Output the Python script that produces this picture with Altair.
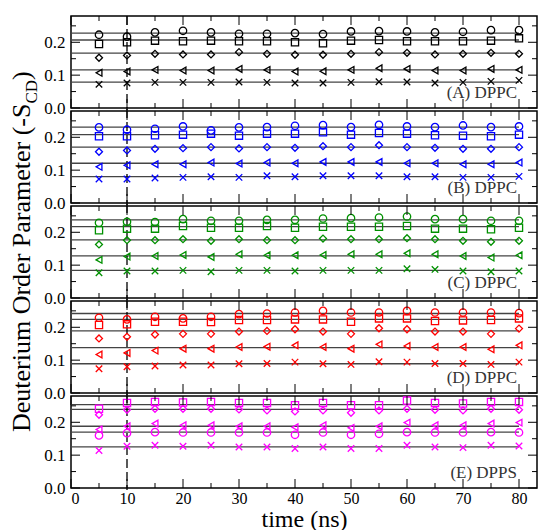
import altair as alt
import pandas as pd

# ---------------- data ----------------
time = [5, 10, 15, 20, 25, 30, 35, 40, 45, 50, 55, 60, 65, 70, 75, 80]
series_names = ["circle", "square", "diamond", "triangle", "cross"]

# (A) DPPC - black
a_circle = [0.223, 0.217, 0.230, 0.235, 0.230, 0.226, 0.226, 0.228, 0.225, 0.233, 0.234, 0.233, 0.230, 0.232, 0.237, 0.237]
a_square = [0.195, 0.200, 0.205, 0.203, 0.205, 0.203, 0.203, 0.200, 0.197, 0.205, 0.207, 0.203, 0.203, 0.203, 0.205, 0.212]
a_diamond = [0.153, 0.160, 0.165, 0.163, 0.163, 0.170, 0.165, 0.162, 0.162, 0.165, 0.170, 0.168, 0.163, 0.165, 0.168, 0.165]
a_triangle = [0.107, 0.111, 0.116, 0.114, 0.114, 0.119, 0.116, 0.111, 0.112, 0.116, 0.121, 0.119, 0.114, 0.114, 0.119, 0.116]
a_cross = [0.072, 0.076, 0.078, 0.078, 0.078, 0.079, 0.078, 0.076, 0.076, 0.078, 0.080, 0.079, 0.076, 0.078, 0.081, 0.084]
a_levels = [0.228, 0.207, 0.167, 0.116, 0.079]

# (B) DPPC - blue
b_circle = [0.230, 0.223, 0.226, 0.233, 0.221, 0.230, 0.231, 0.235, 0.237, 0.231, 0.238, 0.233, 0.231, 0.236, 0.231, 0.233]
b_square = [0.203, 0.203, 0.206, 0.208, 0.211, 0.205, 0.211, 0.211, 0.215, 0.208, 0.213, 0.211, 0.206, 0.205, 0.203, 0.208]
b_diamond = [0.156, 0.160, 0.165, 0.167, 0.170, 0.166, 0.170, 0.168, 0.173, 0.170, 0.176, 0.170, 0.168, 0.165, 0.165, 0.170]
b_triangle = [0.110, 0.115, 0.118, 0.118, 0.123, 0.120, 0.123, 0.121, 0.125, 0.125, 0.125, 0.121, 0.121, 0.118, 0.118, 0.123]
b_cross = [0.073, 0.073, 0.076, 0.078, 0.080, 0.078, 0.083, 0.080, 0.083, 0.083, 0.083, 0.080, 0.080, 0.078, 0.078, 0.081]
b_levels = [0.231, 0.208, 0.170, 0.121, 0.080]

# (C) DPPC - green
c_circle = [0.229, 0.232, 0.231, 0.240, 0.235, 0.235, 0.238, 0.238, 0.242, 0.243, 0.245, 0.248, 0.240, 0.240, 0.235, 0.235]
c_square = [0.206, 0.211, 0.211, 0.219, 0.214, 0.214, 0.219, 0.214, 0.217, 0.217, 0.217, 0.219, 0.211, 0.211, 0.209, 0.214]
c_diamond = [0.163, 0.176, 0.176, 0.179, 0.174, 0.179, 0.176, 0.176, 0.181, 0.179, 0.179, 0.182, 0.179, 0.174, 0.171, 0.174]
c_triangle = [0.116, 0.126, 0.128, 0.131, 0.125, 0.133, 0.130, 0.130, 0.131, 0.133, 0.133, 0.136, 0.133, 0.128, 0.123, 0.130]
c_cross = [0.077, 0.082, 0.082, 0.084, 0.080, 0.084, 0.084, 0.082, 0.084, 0.084, 0.084, 0.089, 0.087, 0.082, 0.080, 0.082]
c_levels = [0.238, 0.217, 0.177, 0.128, 0.084]

# (D) DPPC - red
d_circle = [0.229, 0.224, 0.232, 0.227, 0.232, 0.240, 0.242, 0.245, 0.250, 0.245, 0.245, 0.250, 0.245, 0.245, 0.245, 0.243]
d_square = [0.207, 0.209, 0.217, 0.217, 0.216, 0.222, 0.222, 0.224, 0.224, 0.217, 0.227, 0.227, 0.219, 0.221, 0.222, 0.227]
d_diamond = [0.166, 0.171, 0.178, 0.180, 0.180, 0.187, 0.189, 0.194, 0.187, 0.180, 0.197, 0.194, 0.187, 0.187, 0.180, 0.196]
d_triangle = [0.117, 0.122, 0.129, 0.135, 0.135, 0.140, 0.141, 0.145, 0.140, 0.135, 0.148, 0.143, 0.140, 0.140, 0.133, 0.145]
d_cross = [0.074, 0.080, 0.082, 0.085, 0.085, 0.089, 0.090, 0.094, 0.089, 0.087, 0.095, 0.094, 0.090, 0.090, 0.087, 0.094]
d_levels = [0.242, 0.224, 0.189, 0.138, 0.089]

# (E) DPPS - magenta
e_circle = [0.160, 0.167, 0.170, 0.169, 0.169, 0.169, 0.169, 0.162, 0.169, 0.162, 0.165, 0.170, 0.169, 0.169, 0.170, 0.169]
e_square = [0.241, 0.259, 0.262, 0.260, 0.262, 0.259, 0.259, 0.252, 0.259, 0.252, 0.252, 0.266, 0.259, 0.257, 0.262, 0.262]
e_diamond = [0.223, 0.238, 0.241, 0.241, 0.241, 0.239, 0.236, 0.233, 0.236, 0.229, 0.236, 0.241, 0.238, 0.236, 0.241, 0.238]
e_triangle = [0.178, 0.188, 0.196, 0.191, 0.191, 0.188, 0.188, 0.185, 0.191, 0.183, 0.188, 0.199, 0.191, 0.191, 0.196, 0.199]
e_cross = [0.114, 0.127, 0.130, 0.127, 0.130, 0.125, 0.125, 0.120, 0.125, 0.120, 0.120, 0.130, 0.125, 0.123, 0.130, 0.128]
e_levels = [0.170, 0.254, 0.239, 0.188, 0.125]

panel_labels = ["(A) DPPC", "(B) DPPC", "(C) DPPC", "(D) DPPC", "(E) DPPS"]
panel_colors = ["#000000", "#0000ff", "#009000", "#ff0000", "#ff00ff"]
panel_series = [
    [a_circle, a_square, a_diamond, a_triangle, a_cross],
    [b_circle, b_square, b_diamond, b_triangle, b_cross],
    [c_circle, c_square, c_diamond, c_triangle, c_cross],
    [d_circle, d_square, d_diamond, d_triangle, d_cross],
    [e_circle, e_square, e_diamond, e_triangle, e_cross],
]
panel_levels = [a_levels, b_levels, c_levels, d_levels, e_levels]

x_major = [0, 10, 20, 30, 40, 50, 60, 70, 80]
x_minor = [5, 15, 25, 35, 45, 55, 65, 75]
y_major = [0.0, 0.1, 0.2]
y_minor = [0.05, 0.15, 0.25]
equil_time = [10]

# ---------------- styling ----------------
FONT = "Liberation Serif"
W, H = 466, 92
PX_PER_NS = 5.6
MAJ, MIN = 9, 5
X_PATH = "M-1,-1L1,1M-1,1L1,-1"
xs = alt.Scale(domain=[0, W / PX_PER_NS], nice=False, zero=False)
ys = alt.Scale(domain=[0, 0.28], nice=False, zero=False)
shape_scale = alt.Scale(domain=series_names,
                        range=["circle", "square", "diamond", "triangle-left", X_PATH])
size_scale = alt.Scale(domain=series_names, range=[55, 42, 62, 58, 22])

yaxis = alt.Axis(values=y_major, format=".1f", ticks=False, domain=False, grid=False,
                 labelFont=FONT, labelFontSize=17, labelColor="black", labelPadding=6,
                 title=None)


def make_panel(i):
    bottom = i == 4
    if bottom:
        xaxis = alt.Axis(values=x_major, format="d", ticks=False, domain=False, grid=False,
                         labelFont=FONT, labelFontSize=16, labelColor="black", labelPadding=2,
                         title="time (ns)", titleFont=FONT, titleFontSize=24,
                         titleFontWeight="normal", titleColor="black", titlePadding=1)
    else:
        xaxis = None
    X = alt.X("time:Q", scale=xs, axis=xaxis)
    Y = alt.Y("value:Q", scale=ys, axis=yaxis)
    color = panel_colors[i]

    rows = []
    for name, vals in zip(series_names, panel_series[i]):
        for t, v in zip(time, vals):
            rows.append({"time": t, "value": v, "series": name})
    pts = pd.DataFrame(rows)
    lv = pd.DataFrame({"time": [0] * 5, "end": [max(time)] * 5,
                       "value": panel_levels[i], "series": series_names})

    levels = alt.Chart(lv).mark_rule(color="#444444", strokeWidth=1.3).encode(
        x=X, x2="end:Q", y=Y)
    vline = alt.Chart(pd.DataFrame({"time": equil_time})).mark_rule(
        color="black", strokeWidth=1.3, strokeDash=[9, 4]).encode(
        x=X, y=alt.value(0 if i == 0 else -2), y2=alt.value(H + 2))
    points = alt.Chart(pts).mark_point(filled=False, strokeWidth=1.3, opacity=1,
                                       color=color).encode(
        x=X, y=Y,
        shape=alt.Shape("series:N", scale=shape_scale, legend=None),
        size=alt.Size("series:N", scale=size_scale, legend=None))

    dxM = pd.DataFrame({"time": x_major})
    dxm = pd.DataFrame({"time": x_minor})
    dyM = pd.DataFrame({"value": y_major})
    dym = pd.DataFrame({"value": y_minor})
    tick = dict(color="black", strokeWidth=1)
    ticks = [
        alt.Chart(dxM).mark_rule(**tick).encode(x=X, y=alt.value(H), y2=alt.value(H - MAJ)),
        alt.Chart(dxm).mark_rule(**tick).encode(x=X, y=alt.value(H), y2=alt.value(H - MIN)),
        alt.Chart(dxM).mark_rule(**tick).encode(x=X, y=alt.value(0), y2=alt.value(MAJ)),
        alt.Chart(dxm).mark_rule(**tick).encode(x=X, y=alt.value(0), y2=alt.value(MIN)),
        alt.Chart(dyM).mark_rule(**tick).encode(y=Y, x=alt.value(0), x2=alt.value(MAJ)),
        alt.Chart(dym).mark_rule(**tick).encode(y=Y, x=alt.value(0), x2=alt.value(MIN)),
        alt.Chart(dyM).mark_rule(**tick).encode(y=Y, x=alt.value(W), x2=alt.value(W - MAJ)),
        alt.Chart(dym).mark_rule(**tick).encode(y=Y, x=alt.value(W), x2=alt.value(W - MIN)),
    ]

    label = alt.Chart(pd.DataFrame({"label": [panel_labels[i]]})).mark_text(
        align="right", baseline="alphabetic", font=FONT, fontSize=17, color="#333333").encode(
        x=alt.value(446), y=alt.value(H - 10), text="label:N")

    layers = [levels, vline, points] + ticks + [label]

    if i == 2:
        # shared y title with subscript, drawn as rotated text pieces
        fs_main, fs_sub = 26, 17
        main_txt, sub_txt, close_txt = "Deuterium Order Parameter (-S", "CD", ")"
        w_main = 12.635 * fs_main
        w_sub = 1.389 * fs_sub
        y0 = 226
        base = dict(angle=270, align="left", baseline="alphabetic", font=FONT, color="black")
        layers += [
            alt.Chart(pd.DataFrame({"t": [main_txt]})).mark_text(fontSize=fs_main, **base).encode(
                x=alt.value(-41), y=alt.value(y0), text="t:N"),
            alt.Chart(pd.DataFrame({"t": [sub_txt]})).mark_text(fontSize=fs_sub, **base).encode(
                x=alt.value(-34), y=alt.value(y0 - w_main), text="t:N"),
            alt.Chart(pd.DataFrame({"t": [close_txt]})).mark_text(fontSize=fs_main, **base).encode(
                x=alt.value(-41), y=alt.value(y0 - w_main - w_sub), text="t:N"),
        ]

    return alt.layer(*layers).properties(width=W, height=H)


chart = alt.vconcat(*[make_panel(i) for i in range(5)], spacing=3, bounds="flush").properties(
    padding={"left": 0, "top": 6, "right": 0, "bottom": 0}
).configure_view(stroke="black", strokeWidth=1.5).configure_axis(
    labelFont=FONT, titleFont=FONT
).configure_text(font=FONT)

chart.save("out.html", embed_options={"renderer": "svg", "actions": False})
